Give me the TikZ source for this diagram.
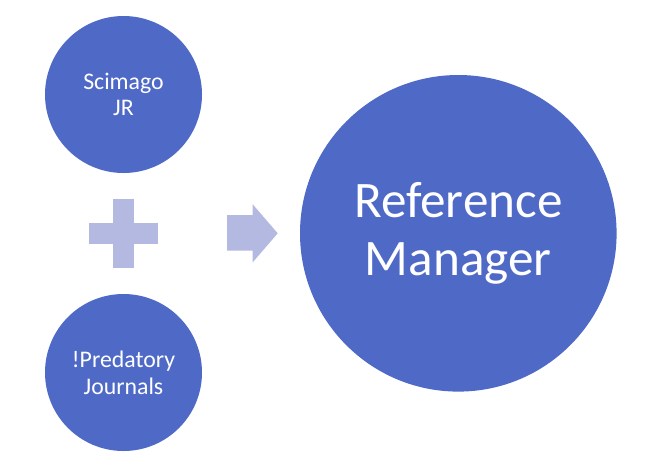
\documentclass[tikz,border=0pt]{standalone}
\usepackage{fontspec}
\setmainfont{Carlito}
\definecolor{circblue}{RGB}{79,105,199}
\definecolor{lightblue}{RGB}{179,185,224}
\begin{document}
\begin{tikzpicture}[x=1pt,y=-1pt,
  bubble/.style={circle, fill=circblue, draw=none, inner sep=0pt, text=white, align=center},
  small/.style={bubble, minimum size=157pt, font=\fontsize{23.8}{26.7}\selectfont},
  big/.style={bubble, minimum size=316.6pt, font=\fontsize{51.2}{57.3}\selectfont},
  connector/.style={fill=lightblue, draw=none}]
\useasboundingbox (0,0) rectangle (662,467);
\node[small] (sjr) at (123.5,94.5) {Scimago\\JR};
\node[small] (pj) at (123.5,372.5) {!Predatory\\Journals};
\node[big] (rm) at (458.3,233.3) {Reference\\Manager};
% plus sign
\fill[connector] (112.7,199.3) rectangle (134.3,267.7);
\fill[connector] (89.3,222.7) rectangle (157.7,244.3);
% arrow
\fill[connector] (227,215) -- (252.7,215) -- (252.7,204.3) -- (277.7,233.3)
  -- (252.7,262.3) -- (252.7,250.7) -- (227,250.7) -- cycle;
\end{tikzpicture}
\end{document}
